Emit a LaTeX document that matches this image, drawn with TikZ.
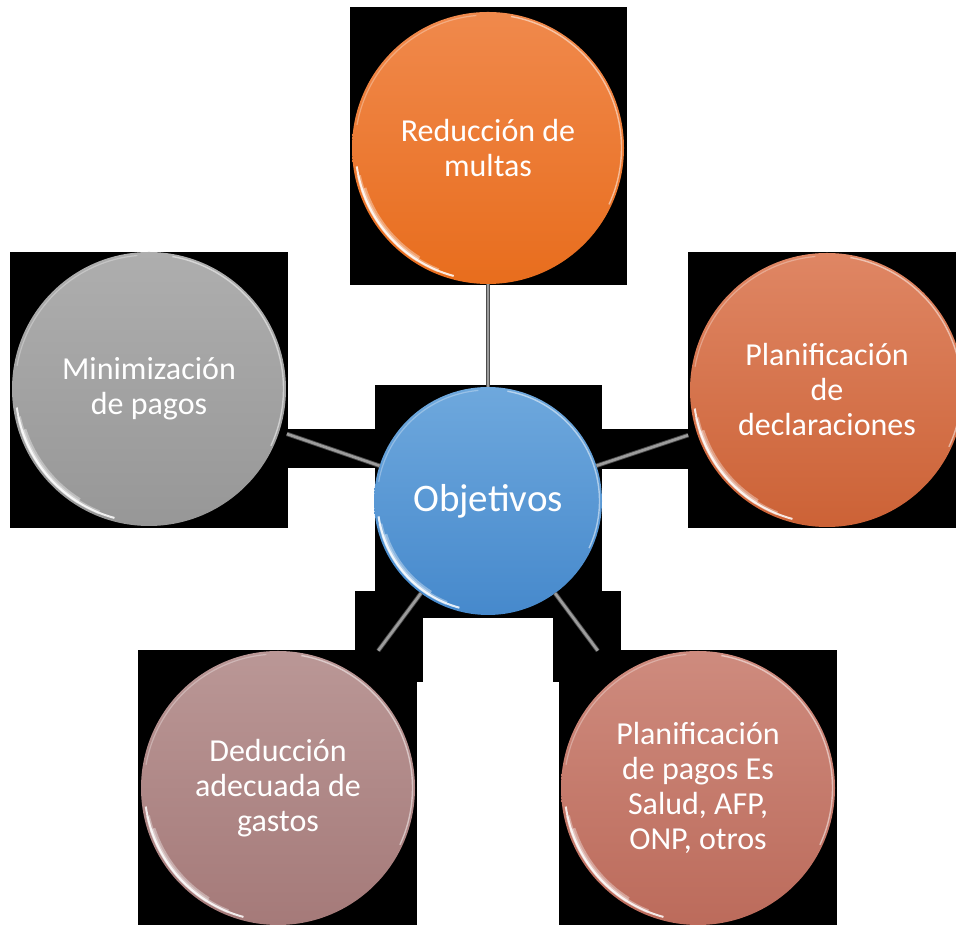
\documentclass[tikz,border=0pt]{standalone}
\usepackage{fontspec}
\setmainfont{Carlito}
\definecolor{orT}{HTML}{F0894C}\definecolor{orB}{HTML}{E86D1D}
\definecolor{grT}{HTML}{AEAEAE}\definecolor{grB}{HTML}{979797}
\definecolor{rdT}{HTML}{DF8664}\definecolor{rdB}{HTML}{CC6236}
\definecolor{blT}{HTML}{6EA8DD}\definecolor{blB}{HTML}{4689CC}
\definecolor{roT}{HTML}{BA9796}\definecolor{roB}{HTML}{A57A79}
\definecolor{saT}{HTML}{CE8B7E}\definecolor{saB}{HTML}{BC6B5B}
\definecolor{lineGray}{HTML}{9C9C9C}
\tikzset{
  ball/.style n args={3}{circle, inner sep=0pt, outer sep=0pt,
    minimum size=2*#1, shading=axis, top color=#2, bottom color=#3,
    text=white, align=center, font=\fontsize{32}{35}\selectfont,
    path picture={
      \draw[white, opacity=0.35, line width=6pt]
        ([shift={(198:#1-5)}]path picture bounding box.center)
        arc[start angle=198, end angle=238, radius=#1-5];
      \draw[white, opacity=0.35, line width=4pt]
        ([shift={(192:#1-4)}]path picture bounding box.center)
        arc[start angle=192, end angle=248, radius=#1-4];
      \draw[white, opacity=0.85, line width=2pt]
        ([shift={(188:#1-3.5)}]path picture bounding box.center)
        arc[start angle=188, end angle=255, radius=#1-3.5];
      \draw[white, opacity=0.5, line width=1.4pt]
        ([shift={(-25:#1-2.5)}]path picture bounding box.center)
        arc[start angle=-25, end angle=80, radius=#1-2.5];
      \draw[white, opacity=0.3, line width=1.2pt]
        ([shift={(95:#1-3)}]path picture bounding box.center)
        arc[start angle=95, end angle=170, radius=#1-3];
    }},
  backbox/.style={fill=black},
  conn/.style={draw=black!70, line width=0.9pt, double=lineGray, double distance=2.6pt}
}
\begin{document}
\begin{tikzpicture}
\useasboundingbox (0,0) rectangle (956pt,925pt);
\fill[white] (0,0) rectangle (956pt,925pt);
\clip (0,0) rectangle (956pt,925pt);
\begin{scope}[x=1pt,y=1pt]
% black backing boxes
\fill[backbox] (350,640) rectangle (627,918);
\fill[backbox] (10,397) rectangle (288,673);
\fill[backbox] (688,397) rectangle (956,673);
\fill[backbox] (375,307) rectangle (602,540);
\fill[backbox] (138,0) rectangle (417,275);
\fill[backbox] (559,0) rectangle (837,275);
\fill[backbox] (288,457) rectangle (375,496);
\fill[backbox] (602,456) rectangle (690,496);
\fill[backbox] (355,243) rectangle (423,334);
\fill[backbox] (553,243) rectangle (621,334);
% circles
\node[ball={136pt}{orT}{orB}] (top) at (488,777) {Reducción de\\multas};
\node[ball={137pt}{grT}{grB}] (lft) at (149,536) {Minimización\\de pagos};
\node[ball={137pt}{rdT}{rdB}] (rgt) at (827,535) {Planificación\\de\\declaraciones};
\node[ball={114pt}{blT}{blB}, font=\fontsize{39}{42}\selectfont] (ctr) at (488,424) {Objetivos};
\node[ball={137pt}{roT}{roB}] (bl) at (278,137) {Deducción\\adecuada de\\gastos};
\node[ball={137pt}{saT}{saB}] (br) at (698,137) {Planificación\\de pagos Es\\Salud, AFP,\\ONP, otros};
% connectors
\draw[conn] (top.south) -- (ctr.north);
\draw[conn, shorten <=8pt] (lft.-18) -- (ctr.162);
\draw[conn, shorten >=9pt] (ctr.18) -- (rgt.198);
\draw[conn, shorten >=33pt] (ctr.234) -- (bl.54);
\draw[conn, shorten >=33pt] (ctr.-54) -- (br.126);
\end{scope}
\end{tikzpicture}
\end{document}
